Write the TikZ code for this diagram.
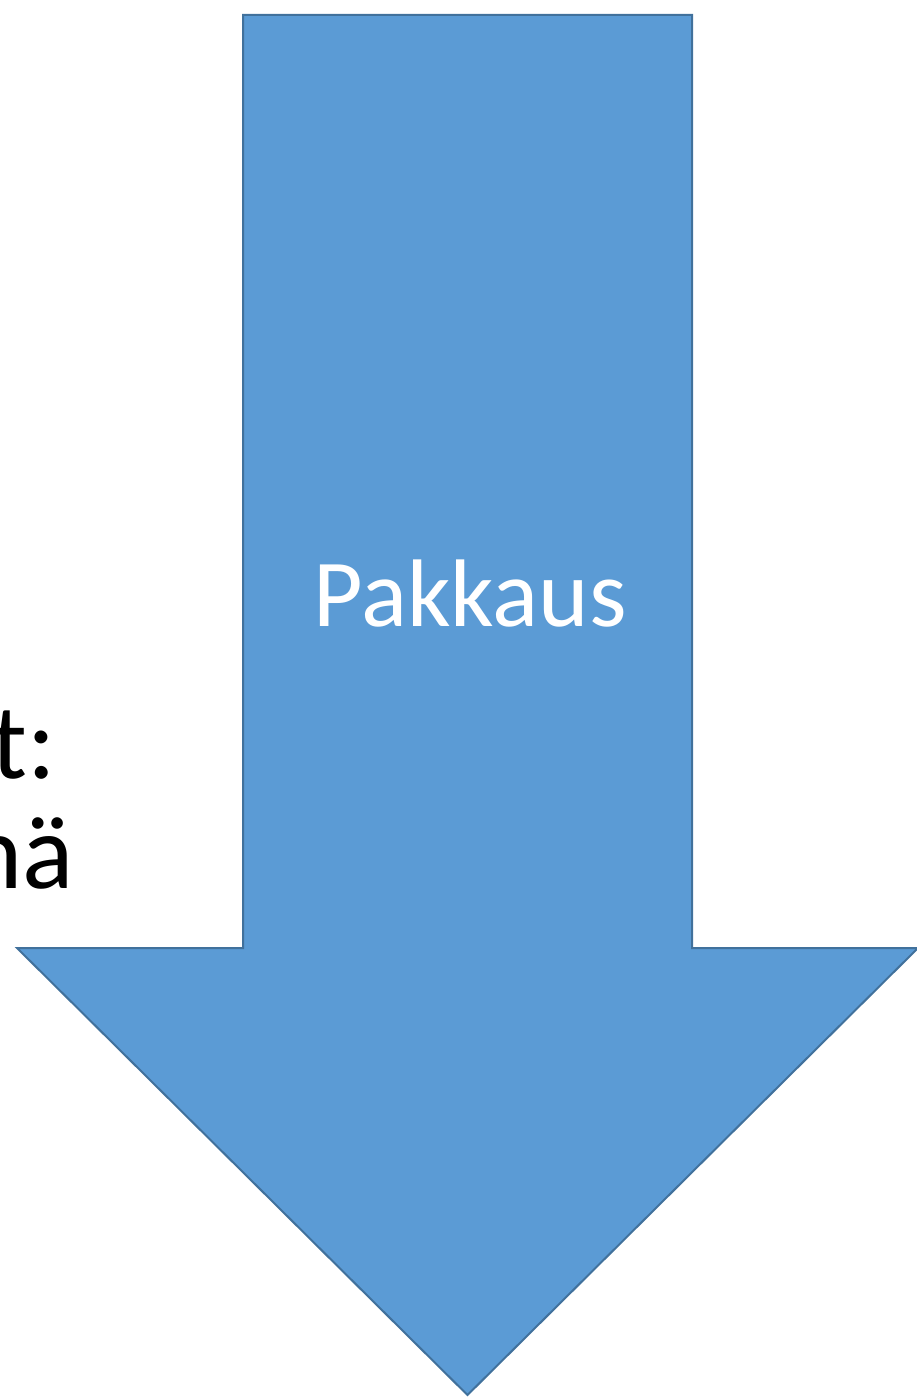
\documentclass[tikz,border=0pt]{standalone}
\usepackage{fontspec}
\setmainfont{Carlito}
\definecolor{arrowfill}{HTML}{5B9BD5}
\definecolor{arrowline}{HTML}{41719C}
\tikzset{
  bigarrow/.style={fill=arrowfill, draw=arrowline, line width=2pt, line join=miter},
  sidetext/.style={inner sep=0pt, anchor=base east, font=\fontsize{107}{112}\selectfont, text=black},
  arrowtext/.style={inner sep=0pt, anchor=base, font=\fontsize{96}{115}\selectfont, text=white}
}
\begin{document}
\begin{tikzpicture}[x=1pt, y=-1pt]
  \useasboundingbox (0,0) rectangle (917,1397);
  % down arrow
  \draw[bigarrow] (243,15) -- (692,15) -- (692,948) -- (918,948)
    -- (467.5,1395) -- (17,948) -- (243,948) -- cycle;
  \node[arrowtext] (label) at (470,626) {Pakkaus};
  % text fragments at the left edge
  \node[sidetext] (line1) at (56,778) {t:};
  \node[sidetext] (line2) at (74,888) {nä};
\end{tikzpicture}
\end{document}
